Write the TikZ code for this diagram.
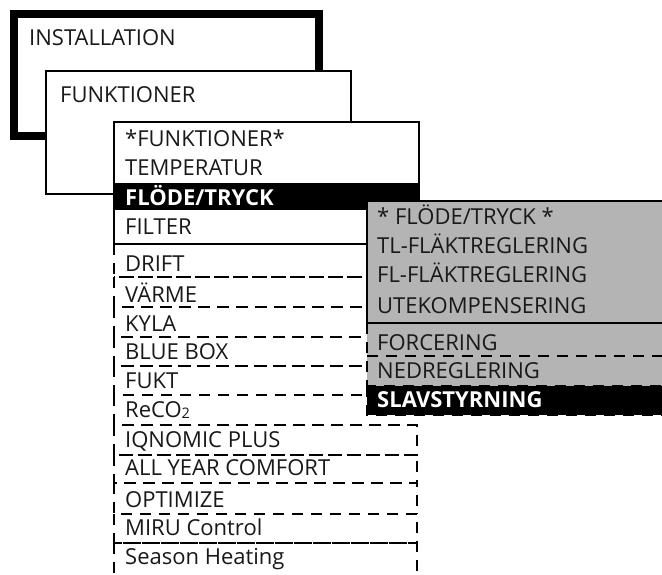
\documentclass[tikz,border=0pt]{standalone}
\usepackage{fontspec}
\setmainfont{Open Sans}
\definecolor{menugray}{RGB}{180,180,180}
\definecolor{ink}{RGB}{25,25,25}
\tikzset{
  lbl/.style={anchor=base west, inner sep=0pt, text=ink, font=\fontsize{22}{26}\selectfont},
  sel/.style={anchor=base west, inner sep=0pt, text=white, font=\fontsize{22}{26}\selectfont\bfseries},
  frame/.style={draw=black, line width=2pt, fill=white},
  dashrow/.style={draw=black, line width=2.2pt, dash pattern=on 11pt off 8pt},
}
\begin{document}
\begin{tikzpicture}[x=1pt,y=-1pt]
\clip (0,0) rectangle (662,575);
\fill[white] (0,0) rectangle (662,575);
% INSTALLATION box
\draw[line width=8pt, fill=white] (14,14) rectangle (319,136);
\node[lbl] (inst) at (29,46) {INSTALLATION};
% FUNKTIONER box
\draw[frame] (46,71) rectangle (351,194);
\node[lbl] (funk) at (60,103) {FUNKTIONER};
% dashed rows
\foreach \t/\b in {244/277,277/307,307/337,337/366,366/395,395/425,425/455,455/483,483/514,514/543,543/605}
  \draw[dashrow] (114,\t) rectangle (417,\b);
\node[lbl] (drift) at (125,272) {DRIFT};
\node[lbl] (varme) at (125,302) {VÄRME};
\node[lbl] (kyla) at (125,331) {KYLA};
\node[lbl] (blue) at (125,359) {BLUE BOX};
\node[lbl] (fukt) at (125,388) {FUKT};
\node[lbl] (reco) at (125,417) {ReCO\raisebox{-1.5pt}{\fontsize{14.5}{14.5}\selectfont 2}};
\node[lbl] (iqno) at (125,447) {IQNOMIC PLUS};
\node[lbl] (ayc) at (125,475) {ALL YEAR COMFORT};
\node[lbl] (opti) at (125,507) {OPTIMIZE};
\node[lbl] (miru) at (125,535) {MIRU Control};
\node[lbl] (season) at (125,564) {Season Heating};
% FUNKTIONER list box
\draw[frame] (114,122) rectangle (419,244);
\fill[black] (114,183) rectangle (419,210);
\node[lbl] (fh) at (125,147) {*FUNKTIONER*};
\node[lbl] (temp) at (125,176) {TEMPERATUR};
\node[sel] (flode) at (125,206) {FLÖDE/TRYCK};
\node[lbl] (filter) at (125,234) {FILTER};
% FLÖDE/TRYCK submenu
\fill[menugray] (367,201) rectangle (670,415);
\draw[line width=2pt] (670,201) -- (367,201) -- (367,323);
\draw[line width=1.3pt] (367,323) -- (670,323);
\draw[dashrow] (367,323) -- (367,386);
\draw[dashrow] (367,356) -- (670,356);
\fill[black] (367,386) rectangle (670,415);
\draw[dashrow] (367,386) rectangle (675,415);
\node[lbl] (fth) at (377,225) {* FLÖDE/TRYCK *};
\node[lbl] (tl) at (377,254) {TL-FLÄKTREGLERING};
\node[lbl] (fl) at (377,283) {FL-FLÄKTREGLERING};
\node[lbl] (ute) at (377,313) {UTEKOMPENSERING};
\node[lbl] (forc) at (377,350) {FORCERING};
\node[lbl] (nedr) at (377,378) {NEDREGLERING};
\node[sel] (slav) at (377,407) {SLAVSTYRNING};
\end{tikzpicture}
\end{document}
